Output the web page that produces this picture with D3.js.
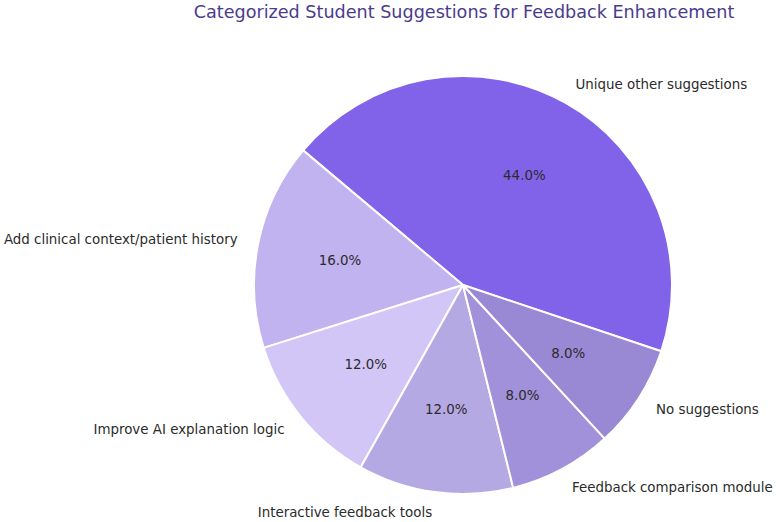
<!DOCTYPE html>
<html><head><meta charset="utf-8">
<script src="https://cdn.jsdelivr.net/npm/d3@7"></script>
<style>body{margin:0;background:#fff}svg{display:block}</style>
</head><body><svg id="c" width="776" height="522"></svg>
<script>
const categories = ["Unique other suggestions","Add clinical context/patient history","Improve AI explanation logic","Interactive feedback tools","Feedback comparison module","No suggestions"];
const values = [44,16,12,12,8,8];
const colors = ["#8063e8","#c0b3f0","#d1c6f6","#b4a9e2","#a091da","#9988d3"];
const title = "Categorized Student Suggestions for Feedback Enhancement";

const svg = d3.select("#c");
const cx = 463, cy = 285, r = 209;
const startDeg = -18.5; // matplotlib-style start angle, counterclockwise
const total = d3.sum(values);
const toRad = d => d*Math.PI/180;
const pie = d3.pie().sort(null).value(d=>d.v)
  .startAngle(toRad(90 - startDeg)).endAngle(toRad(90 - startDeg - 360));
const data = categories.map((c,i)=>({c, v:values[i], col:colors[i]}));
const arcs = pie(data);
const arc = d3.arc().innerRadius(0).outerRadius(r);
const g = svg.append("g").attr("transform",`translate(${cx},${cy})`);
g.selectAll("path").data(arcs).join("path")
  .attr("d",arc).attr("fill",d=>d.data.col)
  .attr("stroke","#fff").attr("stroke-width",2).attr("stroke-linejoin","round");

const font = "DejaVu Sans, sans-serif";
arcs.forEach(d=>{
  const mid = (d.startAngle+d.endAngle)/2;
  const sx = Math.sin(mid), sy = -Math.cos(mid);
  g.append("text").attr("x",sx*r*0.6).attr("y",sy*r*0.6)
    .attr("text-anchor","middle").attr("dominant-baseline","central")
    .attr("font-family",font).attr("font-size",13.4).attr("fill","#2b2b2b")
    .text((d.data.v/total*100).toFixed(1)+"%");
  g.append("text").attr("x",sx*r*1.1).attr("y",sy*r*1.1)
    .attr("text-anchor", sx>0?"start":"end").attr("dominant-baseline","central")
    .attr("font-family",font).attr("font-size",13.4).attr("fill","#2b2b2b")
    .text(d.data.c);
});
svg.append("text").attr("x",464).attr("y",18).attr("text-anchor","middle")
  .attr("font-family",font).attr("font-size",17.6).attr("fill","#4a3b8e")
  .text(title);
</script></body></html>
